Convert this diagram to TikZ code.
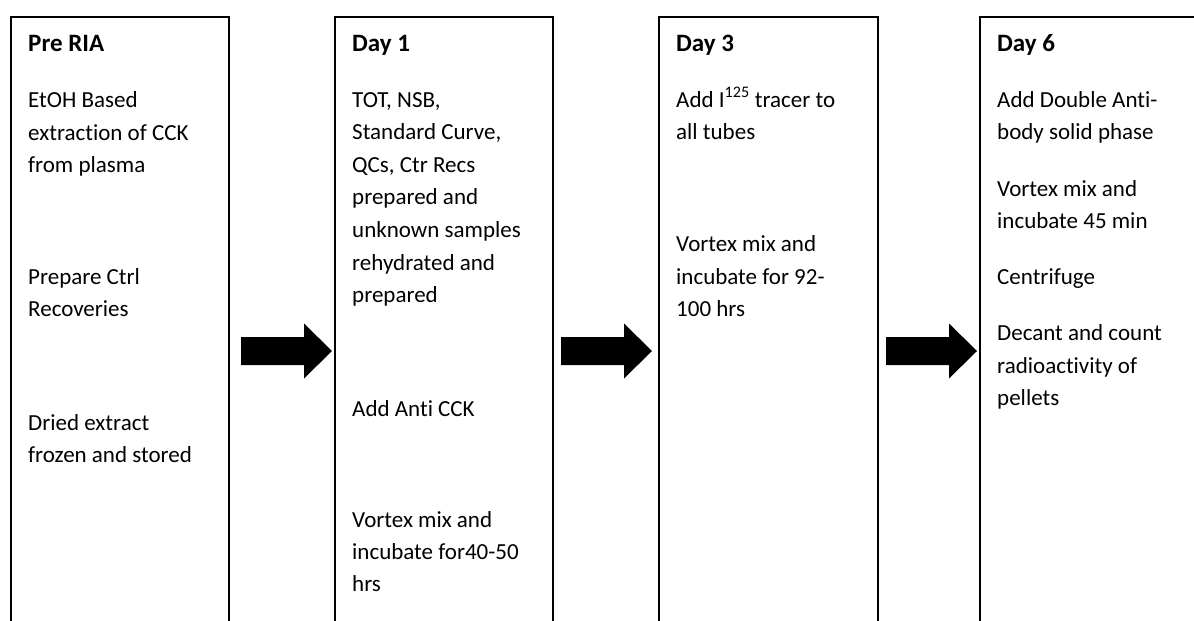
\documentclass[tikz,border=0pt]{standalone}
\usepackage{fontspec}
\setmainfont[RawFeature={-liga,-clig,-dlig,-calt}]{Carlito}
\usetikzlibrary{calc}
\newcommand\nl{\kern0pt{}}
\newcommand\myblockarrow[2]{%
  \fill ($(#1)+(0,-14)$) -- ($(#2)+(-28,-14)$) -- ($(#2)+(-28,-27.5)$) -- (#2)
    -- ($(#2)+(-28,27.5)$) -- ($(#2)+(-28,14)$) -- ($(#1)+(0,14)$) -- cycle;}
\begin{document}
\begin{tikzpicture}[x=1pt,y=-1pt,
  stage/.style={draw, line width=2pt, minimum width=218pt, minimum height=700pt,
                anchor=north west, inner sep=0pt},
  ttl/.style={anchor=base west, inner sep=0pt, font=\fontsize{25}{30}\selectfont\bfseries},
  txt/.style={anchor=base west, inner sep=0pt, font=\fontsize{23}{32}\selectfont}]
\useasboundingbox (0,0) rectangle (1194,621);
\clip (0,0) rectangle (1194,621);
\fill[white] (0,0) rectangle (1194,621);

% stage boxes
\node[stage] (b1) at (10,16) {};
\node[stage] (b2) at (334,16) {};
\node[stage, minimum width=219pt] (b3) at (658,16) {};
\node[stage] (b4) at (979,16) {};

% block arrows
\coordinate (a1s) at ($(b1.north east)+(11,335)$);
\coordinate (a1e) at ($(b2.north west)+(-2,335)$);
\coordinate (a2s) at ($(b2.north east)+(7,335)$);
\coordinate (a2e) at ($(b3.north west)+(-6,335)$);
\coordinate (a3s) at ($(b3.north east)+(7,335)$);
\coordinate (a3e) at ($(b4.north west)+(-2,335)$);
\myblockarrow{a1s}{a1e}
\myblockarrow{a2s}{a2e}
\myblockarrow{a3s}{a3e}

% box 1
\node[ttl] (h1) at (28,51) {Pre RIA};
\node[txt] (p1a) at (28,107) {EtOH Based};
\node[txt] (p1b) at (28,140) {extract\nl ion of CCK};
\node[txt] (p1c) at (28,172) {from plasma};
\node[txt] (p1d) at (28,284) {Prepare Ctrl};
\node[txt] (p1e) at (28,316) {Recoveries};
\node[txt] (p1f) at (28,430) {Dried extract};
\node[txt] (p1g) at (28,462) {frozen and stored};

% box 2
\node[ttl] (h2) at (352,51) {Day 1};
\node[txt] (p2a) at (352,107) {TOT, NSB,};
\node[txt] (p2b) at (352,139) {Standard Curve,};
\node[txt] (p2c) at (352,172) {QCs, Ctr Recs};
\node[txt] (p2d) at (352,204) {prepared and};
\node[txt] (p2e) at (352,237) {unknown samples};
\node[txt] (p2f) at (352,270) {rehydrated and};
\node[txt] (p2g) at (352,302) {prepared};
\node[txt] (p2h) at (352,416) {Add Ant\nl i CCK};
\node[txt] (p2i) at (352,527) {Vortex mix and};
\node[txt] (p2j) at (352,559) {incubate for40-50};
\node[txt] (p2k) at (352,591) {hrs};

% box 3
\node[ttl] (h3) at (676,51) {Day 3};
\node[txt] (p3a) at (676,107) {Add I\textsuperscript{125} tracer to};
\node[txt] (p3b) at (676,139) {all tubes};
\node[txt] (p3c) at (676,251) {Vortex mix and};
\node[txt] (p3d) at (676,284) {incubate for 92-};
\node[txt] (p3e) at (676,316) {100 hrs};

% box 4
\node[ttl] (h4) at (997,51) {Day 6};
\node[txt] (p4a) at (997,107) {Add Double Ant\nl i-};
\node[txt] (p4b) at (997,139) {body solid phase};
\node[txt] (p4c) at (997,196) {Vortex mix and};
\node[txt] (p4d) at (997,228) {incubate 45 min};
\node[txt] (p4e) at (997,284) {Centrif\nl uge};
\node[txt] (p4f) at (997,340) {Decant and count};
\node[txt] (p4g) at (997,373) {radioact\nl ivit\nl y of};
\node[txt] (p4h) at (997,405) {pellets};
\end{tikzpicture}
\end{document}
